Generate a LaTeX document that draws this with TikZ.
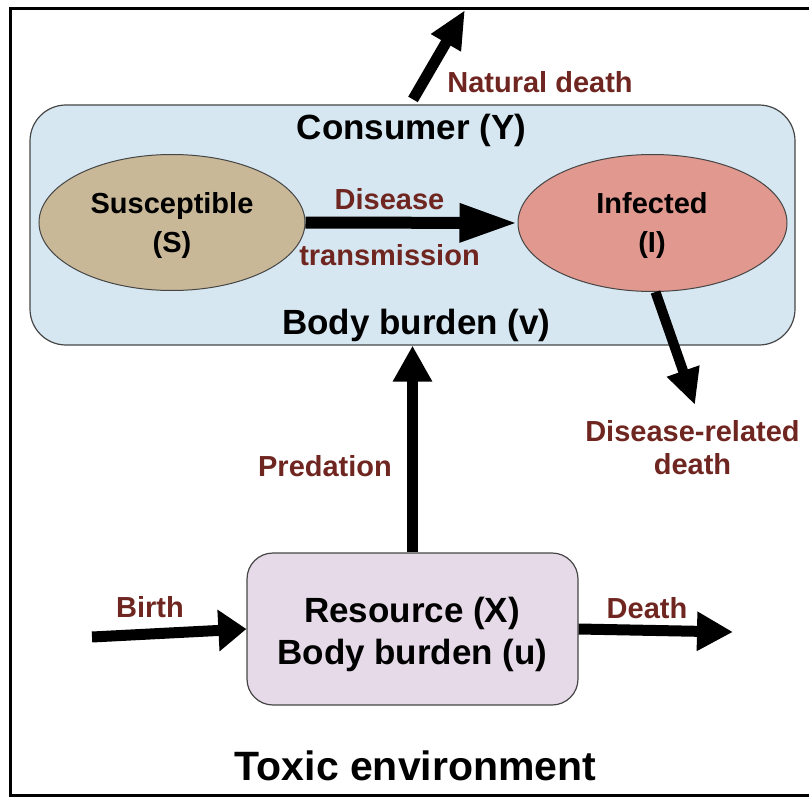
\documentclass[tikz,border=0pt]{standalone}
\usepackage{fontspec}
\setmainfont{Liberation Sans}
\usetikzlibrary{arrows.meta,shapes.geometric}
\definecolor{lbl}{RGB}{112,38,32}
\definecolor{consfill}{RGB}{214,231,241}
\definecolor{susfill}{RGB}{200,184,152}
\definecolor{inffill}{RGB}{224,152,143}
\definecolor{resfill}{RGB}{230,218,232}
\definecolor{edge}{RGB}{70,70,70}
\tikzset{
  bigarrow/.style={line width=11pt,-{Triangle[length=36pt,width=37pt]}},
  lbltext/.style={text=lbl,font=\fontsize{29}{33}\selectfont\bfseries,anchor=base,inner sep=0pt},
  maintext/.style={text=black,font=\fontsize{35}{40}\selectfont\bfseries,anchor=base,inner sep=0pt},
  elltext/.style={text=black,font=\fontsize{29}{33}\selectfont\bfseries,anchor=base,inner sep=0pt},
  ellnode/.style={ellipse,draw=edge,line width=1pt,inner sep=0pt},
  boxnode/.style={rectangle,draw=edge,line width=1.2pt,inner sep=0pt}
}
\begin{document}
\begin{tikzpicture}[x=1pt,y=-1pt]
\useasboundingbox (0,0) rectangle (809,797);
\draw[line width=3pt] (10,9) rectangle (815,795);
% boxes
\node[boxnode,rounded corners=36pt,fill=consfill,minimum width=765pt,minimum height=240pt] (cons) at (412.5,225) {};
\node[ellnode,fill=susfill,minimum width=266pt,minimum height=136pt] (S) at (172,222.5) {};
\node[ellnode,fill=inffill,minimum width=269pt,minimum height=137pt] (I) at (652.5,223) {};
\node[boxnode,rounded corners=26pt,fill=resfill,minimum width=331pt,minimum height=152pt] (res) at (412.5,629) {};
% coordinates
\coordinate (ndtip) at (465,10);
\coordinate (drtip) at (695,405);
\coordinate (btail) at (92,637);
\coordinate (dtip) at (733,632);
% arrows
\draw[bigarrow,-{Triangle[length=38pt,width=32pt]}] (cons.north) ++(0.5,-5) -- (ndtip);
\draw[bigarrow,line width=12pt,-{Triangle[length=58pt,width=36pt]}] (S.east) -- (I.west);
\draw[bigarrow,line width=10pt,-{Triangle[length=36pt,width=32pt]}] (I.south) ++(3,0) -- (drtip);
\draw[bigarrow] (res.north) -- (cons.south);
\draw[bigarrow,-{Triangle[length=28pt,width=40pt]}] (btail) -- (res.west);
\draw[bigarrow] (res.east) -- (dtip);
% texts
\node[lbltext] (tnd) at (540,93) {Natural death};
\node[maintext] (tcons) at (411.5,140) {Consumer (Y)};
\node[elltext] (ts1) at (172,214) {Susceptible};
\node[elltext] (ts2) at (172,252) {(S)};
\node[lbltext] (tdis) at (389.5,209) {Disease};
\node[lbltext] (ttr) at (389.5,265) {transmission};
\node[elltext] (ti1) at (652,214) {Infected};
\node[elltext] (ti2) at (652,252) {(I)};
\node[maintext] (tbv) at (416.5,334) {Body burden (v)};
\node[lbltext] (tdr1) at (692.5,441) {Disease-related};
\node[lbltext] (tdr2) at (692.5,474) {death};
\node[lbltext] (tpred) at (325,476) {Predation};
\node[lbltext] (tbirth) at (150,617) {Birth};
\node[lbltext] (tdeath) at (647,618) {Death};
\node[maintext] (tres) at (412,622) {Resource (X)};
\node[maintext] (tbu) at (412.5,664) {Body burden (u)};
\node[text=black,font=\fontsize{41}{46}\selectfont\bfseries,anchor=base,inner sep=0pt] (ttox) at (415.5,780) {Toxic environment};
\end{tikzpicture}
\end{document}
